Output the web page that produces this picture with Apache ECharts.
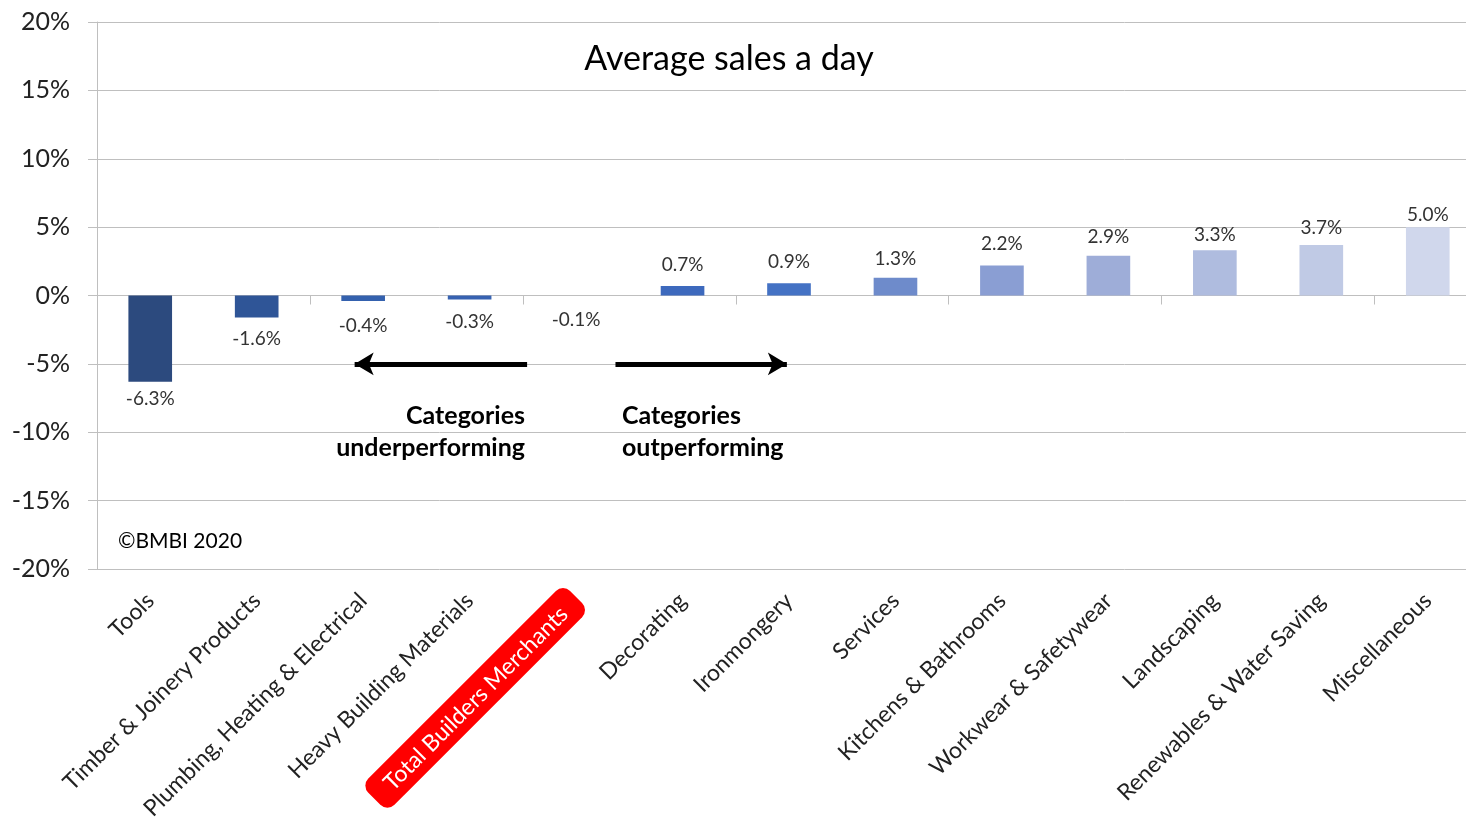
<!DOCTYPE html>
<html><head><meta charset="utf-8">
<script src="https://cdn.jsdelivr.net/npm/echarts@6/dist/echarts.min.js"></script>
<style>html,body{margin:0;padding:0;background:#fff}#c{width:1466px;height:821px}</style>
</head><body><div id="c"></div>
<script>
const categories = ["Tools","Timber & Joinery Products","Plumbing, Heating & Electrical","Heavy Building Materials","Total Builders Merchants","Decorating","Ironmongery","Services","Kitchens & Bathrooms","Workwear & Safetywear","Landscaping","Renewables & Water Saving","Miscellaneous"];
const values = [-6.3,-1.6,-0.4,-0.3,-0.1,0.7,0.9,1.3,2.2,2.9,3.3,3.7,5.0];
const barColors = ["#2C4A7E","#2F5597","#3461AE","#3762B1","rgba(0,0,0,0)","#3D69BD","#4472C4","#6E8BCB","#8A9ED3","#9EADD8","#AFBCDF","#C0CAE5","#D0D7EC"];
const labelDistances = [8,12,15,13,14,12,12,9,12,9,6,8,3];
const yTicks = {min:-20, max:20, interval:5};
const leftArrow = [3.54, 1.92];
const rightArrow = [4.37, 5.98];
const highlightCategory = "Total Builders Merchants";

const FONT = "Lato";
const chart = echarts.init(document.getElementById('c'));
chart.setOption({
  animation:false,
  textStyle:{fontFamily:FONT},
  grid:{left:97,right:-15,top:22,bottom:252,containLabel:false,outerBoundsMode:'none'},
  xAxis:[
    {type:'category',data:categories,position:'bottom',
     axisLine:{show:false,onZero:false},axisTick:{show:false},
     axisLabel:{interval:0,rotate:45,margin:28,fontSize:23,color:'#222',fontFamily:FONT,
       formatter:v=> v===highlightCategory ? '{h|'+v+'}' : v,
       rich:{h:{color:'#fff',backgroundColor:'#FF0000',borderRadius:10,padding:[8,18,6,18],fontSize:23,fontFamily:FONT}}}},
    {type:'category',data:categories,position:'bottom',
     axisLine:{show:true,onZero:true,lineStyle:{color:'#BFBFBF',width:1}},
     axisTick:{show:true,length:9,lineStyle:{color:'#BFBFBF'}},axisLabel:{show:false}},
    {type:'value',show:false,min:-0.5,max:categories.length-0.5,axisLine:{onZero:false}}
  ],
  yAxis:{type:'value',min:yTicks.min,max:yTicks.max,interval:yTicks.interval,
    axisLine:{show:true,onZero:false,lineStyle:{color:'#BFBFBF'}},
    axisTick:{show:true,length:9,lineStyle:{color:'#BFBFBF'}},
    splitLine:{lineStyle:{color:'#BFBFBF'}},
    axisLabel:{formatter:'{value}%',fontSize:25,color:'#222',margin:27,fontFamily:FONT}},
  series:[
    {type:'bar',xAxisIndex:0,barWidth:'41%',
     data:values.map((v,i)=>({value:v,itemStyle:{color:barColors[i]},
       label:{show:true,position:v<0?'bottom':'top',distance:labelDistances[i],formatter:v.toFixed(1)+'%',fontSize:19,color:'#333',fontFamily:FONT}}))},
    {type:'line',xAxisIndex:2,data:[],silent:true,
     markLine:{silent:true,symbol:['none','arrow'],symbolSize:[17,19],label:{show:false},
       lineStyle:{color:'#000',width:5,type:'solid'},
       data:[
         [{coord:[leftArrow[0],-5]},{coord:[leftArrow[1],-5]}],
         [{coord:[rightArrow[0],-5]},{coord:[rightArrow[1],-5]}]
       ]}}
  ],
  graphic:[
    {type:'text',x:729,y:42,style:{text:'Average sales a day',fontSize:34,fontFamily:FONT,fill:'#000',align:'center',textAlign:'center'}},
    {type:'text',x:525,y:400,style:{text:'Categories\nunderperforming',fontSize:25,fontWeight:'bold',fontFamily:FONT,fill:'#000',align:'right',textAlign:'right',lineHeight:32}},
    {type:'text',x:622,y:400,style:{text:'Categories\noutperforming',fontSize:25,fontWeight:'bold',fontFamily:FONT,fill:'#000',align:'left',lineHeight:32}},
    {type:'text',x:118,y:531,style:{text:'©BMBI 2020',fontSize:21,fontFamily:FONT,fill:'#000'}}
  ]
});
</script></body></html>
